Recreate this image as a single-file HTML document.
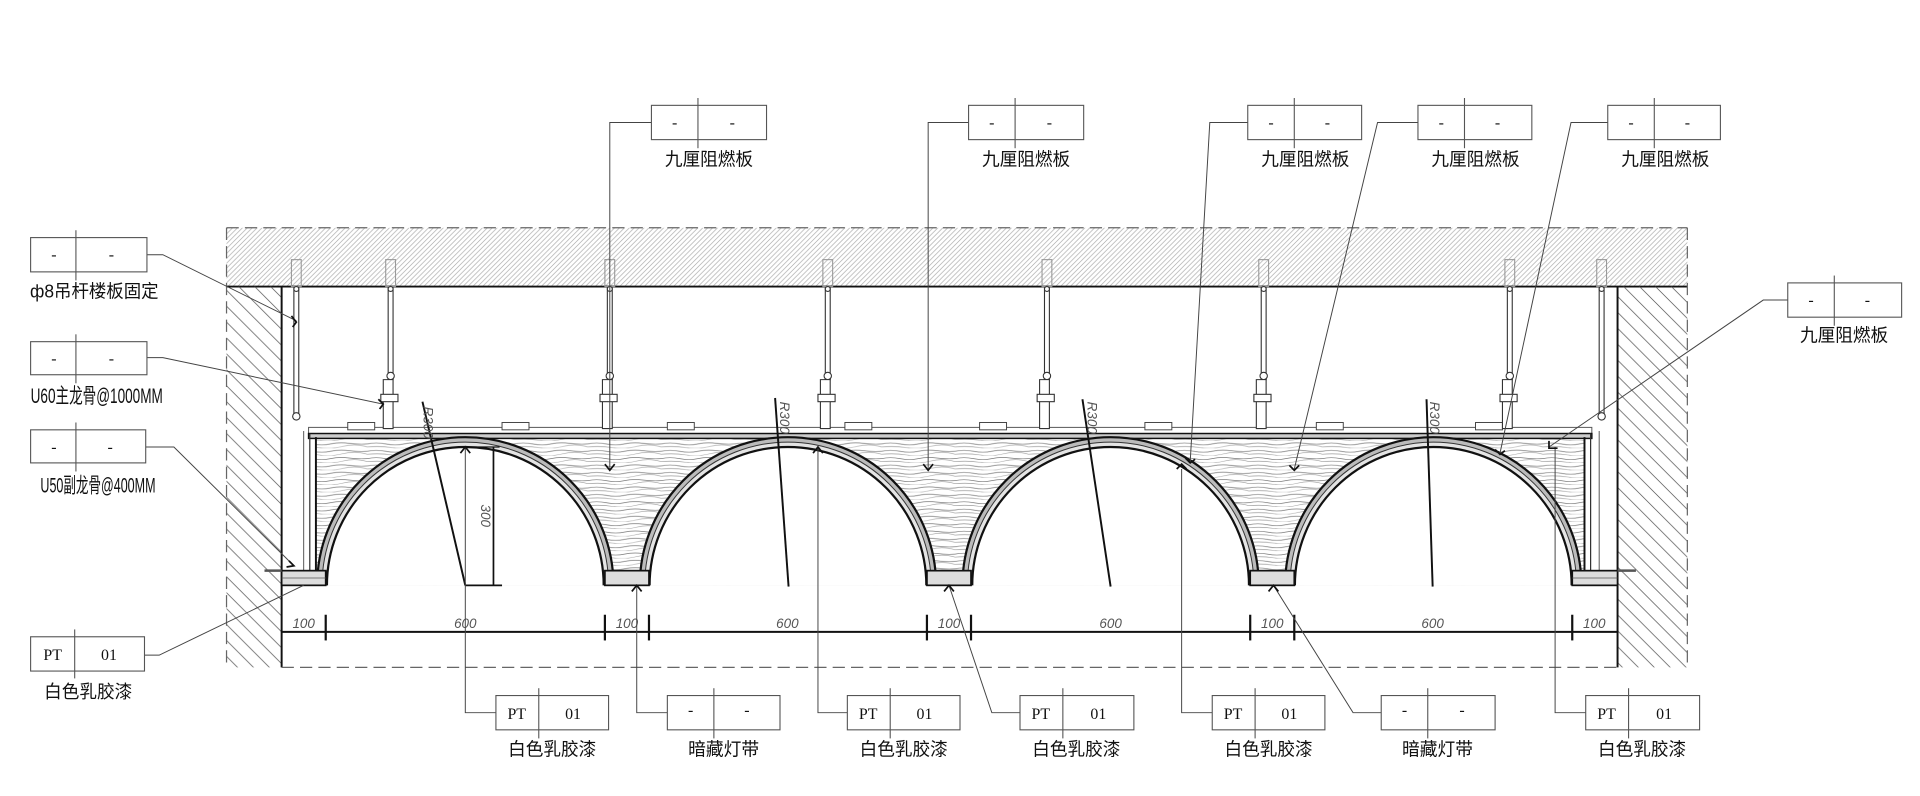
<!DOCTYPE html>
<html><head><meta charset="utf-8"><style>
html,body{margin:0;padding:0;background:#fff;}
svg{display:block;}
.lbl{font-family:"Liberation Sans","Noto Sans CJK SC",sans-serif;font-size:15px;fill:#111;}
.bx{font-family:"Liberation Serif","Noto Serif CJK SC",serif;font-size:13px;fill:#111;}
.dim{font-family:"Liberation Sans",sans-serif;font-size:11px;font-style:italic;fill:#555;}
</style></head><body>
<svg width="1920" height="796" viewBox="0 0 1568 650" xmlns="http://www.w3.org/2000/svg">
<defs>
<pattern id="slab" width="4" height="4" patternUnits="userSpaceOnUse">
<path d="M0 4 L4 0 M-1 1 L1 -1 M3 5 L5 3" stroke="#a8a8a8" stroke-width="0.55"/>
</pattern>
<pattern id="wall" width="13" height="13" patternUnits="userSpaceOnUse">
<path d="M0 0 L13 13 M-6.5 6.5 L6.5 19.5 M6.5 -6.5 L19.5 6.5" stroke="#555" stroke-width="0.6"/>
</pattern>
<pattern id="wood" width="60" height="6" patternUnits="userSpaceOnUse">
<path d="M0 2.5 Q7 1 15 2.5 T30 2.5 T45 2 T60 2.5" stroke="#777" stroke-width="0.55" fill="none"/>
<path d="M0 5 Q10 4 20 5.5 T40 4.5 T60 5" stroke="#999" stroke-width="0.5" fill="none"/>
</pattern>
<clipPath id="above"><rect x="0" y="0" width="1568" height="478"/></clipPath>
</defs>

<rect x="185" y="186" width="1193" height="48" fill="url(#slab)"/>
<line x1="185" y1="186" x2="1378" y2="186" stroke="#666" stroke-dasharray="10,5" stroke-width="1"/>
<line x1="185" y1="234" x2="1378" y2="234" stroke="#111" stroke-width="1.6"/>
<rect x="185" y="234" width="45" height="311" fill="url(#wall)"/>
<rect x="1321" y="234" width="57" height="311" fill="url(#wall)"/>
<line x1="185" y1="186" x2="185" y2="545" stroke="#666" stroke-dasharray="10,5"/>
<line x1="1378" y1="186" x2="1378" y2="545" stroke="#666" stroke-dasharray="10,5"/>
<line x1="230" y1="234" x2="230" y2="545" stroke="#111" stroke-width="1.6"/>
<line x1="1321" y1="234" x2="1321" y2="545" stroke="#111" stroke-width="1.6"/>
<line x1="230" y1="545" x2="1321" y2="545" stroke="#666" stroke-dasharray="10,5"/>

<rect x="258" y="357" width="1036" height="121" fill="url(#wood)"/>
<rect x="252" y="349" width="1048" height="5" fill="#fff" stroke="#555" stroke-width="0.8"/>
<rect x="252" y="354" width="1048" height="4" fill="#ccc" stroke="#111" stroke-width="1.2"/>
<line x1="258" y1="357" x2="258" y2="470" stroke="#111" stroke-width="1.6"/>
<line x1="253" y1="354" x2="253" y2="470" stroke="#333" stroke-width="1"/>
<line x1="1294" y1="357" x2="1294" y2="470" stroke="#111" stroke-width="1.6"/>
<line x1="1299" y1="354" x2="1299" y2="470" stroke="#333" stroke-width="1"/>
<line x1="248" y1="352" x2="248" y2="466" stroke="#555" stroke-width="0.8"/>
<line x1="1306" y1="352" x2="1306" y2="466" stroke="#555" stroke-width="0.8"/>
<g fill="#fff" stroke="#444" stroke-width="0.8">
<rect x="284" y="345" width="22" height="6"/><rect x="410" y="345" width="22" height="6"/>
<rect x="545" y="345" width="22" height="6"/><rect x="690" y="345" width="22" height="6"/>
<rect x="800" y="345" width="22" height="6"/><rect x="935" y="345" width="22" height="6"/>
<rect x="1075" y="345" width="22" height="6"/><rect x="1205" y="345" width="22" height="6"/>
</g>

<g clip-path="url(#above)">
<circle cx="380" cy="478" r="121" fill="#bbb" stroke="#111" stroke-width="1.8"/>
<circle cx="380" cy="478" r="117" fill="#e4e4e4" stroke="#333" stroke-width="0.8"/>
<circle cx="380" cy="478" r="113" fill="#fff" stroke="#111" stroke-width="1.8"/>
<circle cx="643.5" cy="478" r="121" fill="#bbb" stroke="#111" stroke-width="1.8"/>
<circle cx="643.5" cy="478" r="117" fill="#e4e4e4" stroke="#333" stroke-width="0.8"/>
<circle cx="643.5" cy="478" r="113" fill="#fff" stroke="#111" stroke-width="1.8"/>
<circle cx="907" cy="478" r="121" fill="#bbb" stroke="#111" stroke-width="1.8"/>
<circle cx="907" cy="478" r="117" fill="#e4e4e4" stroke="#333" stroke-width="0.8"/>
<circle cx="907" cy="478" r="113" fill="#fff" stroke="#111" stroke-width="1.8"/>
<circle cx="1170.5" cy="478" r="121" fill="#bbb" stroke="#111" stroke-width="1.8"/>
<circle cx="1170.5" cy="478" r="117" fill="#e4e4e4" stroke="#333" stroke-width="0.8"/>
<circle cx="1170.5" cy="478" r="113" fill="#fff" stroke="#111" stroke-width="1.8"/>
</g>
<g fill="#ddd" stroke="#111" stroke-width="1.4">
<rect x="230" y="466" width="36" height="12"/>
<rect x="494" y="466" width="36" height="12"/>
<rect x="757" y="466" width="36" height="12"/>
<rect x="1021" y="466" width="36" height="12"/>
<rect x="1284" y="466" width="37" height="12"/>
</g>
<line x1="230" y1="472" x2="266" y2="472" stroke="#555" stroke-width="0.7"/>
<line x1="1284" y1="472" x2="1321" y2="472" stroke="#555" stroke-width="0.7"/>
<line x1="216" y1="466" x2="230" y2="466" stroke="#555" stroke-width="2"/>
<line x1="1321" y1="466" x2="1336" y2="466" stroke="#555" stroke-width="2"/>

<g stroke="#333" stroke-width="0.9" fill="#fff">
<g><rect x="240" y="234" width="4" height="108"/><rect x="238" y="212" width="8" height="22" fill="none" stroke="#999"/><circle cx="242" cy="340" r="3"/><circle cx="242" cy="236" r="2"/></g>
<g><rect x="317" y="234" width="4" height="76"/><rect x="315" y="212" width="8" height="22" fill="none" stroke="#999"/><circle cx="319" cy="236" r="2"/><circle cx="319" cy="307" r="3"/><path d="M313 310 h8 v40 h-8 z"/><rect x="311" y="322" width="14" height="6"/></g>
<g><rect x="496" y="234" width="4" height="76"/><rect x="494" y="212" width="8" height="22" fill="none" stroke="#999"/><circle cx="498" cy="236" r="2"/><circle cx="498" cy="307" r="3"/><path d="M492 310 h8 v40 h-8 z"/><rect x="490" y="322" width="14" height="6"/></g>
<g><rect x="674" y="234" width="4" height="76"/><rect x="672" y="212" width="8" height="22" fill="none" stroke="#999"/><circle cx="676" cy="236" r="2"/><circle cx="676" cy="307" r="3"/><path d="M670 310 h8 v40 h-8 z"/><rect x="668" y="322" width="14" height="6"/></g>
<g><rect x="853" y="234" width="4" height="76"/><rect x="851" y="212" width="8" height="22" fill="none" stroke="#999"/><circle cx="855" cy="236" r="2"/><circle cx="855" cy="307" r="3"/><path d="M849 310 h8 v40 h-8 z"/><rect x="847" y="322" width="14" height="6"/></g>
<g><rect x="1030" y="234" width="4" height="76"/><rect x="1028" y="212" width="8" height="22" fill="none" stroke="#999"/><circle cx="1032" cy="236" r="2"/><circle cx="1032" cy="307" r="3"/><path d="M1026 310 h8 v40 h-8 z"/><rect x="1024" y="322" width="14" height="6"/></g>
<g><rect x="1231" y="234" width="4" height="76"/><rect x="1229" y="212" width="8" height="22" fill="none" stroke="#999"/><circle cx="1233" cy="236" r="2"/><circle cx="1233" cy="307" r="3"/><path d="M1227 310 h8 v40 h-8 z"/><rect x="1225" y="322" width="14" height="6"/></g>
<g><rect x="1306" y="234" width="4" height="108"/><rect x="1304" y="212" width="8" height="22" fill="none" stroke="#999"/><circle cx="1308" cy="340" r="3"/><circle cx="1308" cy="236" r="2"/></g>
</g>

<g stroke="#111" stroke-width="1.6">
<line x1="345" y1="328" x2="380" y2="478"/>
<line x1="633" y1="325" x2="644" y2="479"/>
<line x1="884" y1="326" x2="907" y2="479"/>
<line x1="1165" y1="326" x2="1170" y2="479"/>
</g>
<g class="dim" font-size="12">
<text transform="translate(346,332) rotate(90)">R300</text>
<text transform="translate(637,328) rotate(90)">R300</text>
<text transform="translate(888,328) rotate(90)">R300</text>
<text transform="translate(1168,328) rotate(90)">R300</text>
<text transform="translate(393,412) rotate(90)">300</text>
</g>
<line x1="403" y1="365" x2="403" y2="478" stroke="#111" stroke-width="1.4"/>
<line x1="380" y1="478" x2="410" y2="478" stroke="#111" stroke-width="1.4"/>
<line x1="380" y1="365" x2="408" y2="365" stroke="#111" stroke-width="1"/>

<line x1="230" y1="516" x2="1321" y2="516" stroke="#111" stroke-width="1.6"/>
<g stroke="#111" stroke-width="1.8">
<line x1="266" y1="502" x2="266" y2="523"/><line x1="494" y1="502" x2="494" y2="523"/>
<line x1="530" y1="502" x2="530" y2="523"/><line x1="757" y1="502" x2="757" y2="523"/>
<line x1="793" y1="502" x2="793" y2="523"/><line x1="1021" y1="502" x2="1021" y2="523"/>
<line x1="1057" y1="502" x2="1057" y2="523"/><line x1="1284" y1="502" x2="1284" y2="523"/>
</g>
<g class="dim" text-anchor="middle">
<text x="248" y="513">100</text><text x="380" y="513">600</text>
<text x="512" y="513">100</text><text x="643" y="513">600</text>
<text x="775" y="513">100</text><text x="907" y="513">600</text>
<text x="1039" y="513">100</text><text x="1170" y="513">600</text>
<text x="1302" y="513">100</text>
</g>

<g stroke="#444" stroke-width="0.8" fill="none">
<polyline points="532,100 498,100 498,383"/>
<polyline points="791,100 758,100 758,383"/>
<polyline points="1019,100 988,100 972,377"/>
<polyline points="1158,100 1125,100 1057,383"/>
<polyline points="1313,100 1283,100 1225,370"/>
<polyline points="1460,245 1440,245 1265,365"/>
<polyline points="120,208 133,208 242,262"/>
<polyline points="120,292 133,292 313,330"/>
<polyline points="119,365 142,365 240,462"/>
<polyline points="118,535 130,535 248,478"/>
<polyline points="405,582 380,582 380,366"/>
<polyline points="545,582 520,582 520,478"/>
<polyline points="692,582 668,582 668,366"/>
<polyline points="833,582 810,582 775,478"/>
<polyline points="990,582 965,582 965,383"/>
<polyline points="1128,582 1105,582 1040,478"/>
<polyline points="1295,582 1270,582 1270,365"/>
</g>
<g stroke="#111" stroke-width="1.4" fill="none">
<polyline points="494,379 498,384 502,379"/><polyline points="754,379 758,384 762,379"/>
<polyline points="968,374 972,378 976,375"/><polyline points="1053,380 1057,384 1061,380"/>
<polyline points="1221,367 1225,371 1229,368"/><polyline points="1265,360 1265,366 1272,366"/>
<polyline points="238,258 242,263 239,267"/><polyline points="309,326 313,330 310,334"/>
<polyline points="236,458 240,462 234,463"/>
<polyline points="376,370 380,365 384,370"/><polyline points="516,483 520,478 524,483"/>
<polyline points="664,370 668,365 672,370"/><polyline points="771,483 775,478 779,483"/>
<polyline points="961,383 965,379 969,383"/><polyline points="1036,483 1040,478 1044,483"/>
</g>

<g fill="#fff" stroke="#555" stroke-width="0.9">
<rect x="532" y="86" width="94" height="28"/><line x1="570" y1="80" x2="570" y2="121"/>
<rect x="791" y="86" width="94" height="28"/><line x1="829" y1="80" x2="829" y2="121"/>
<rect x="1019" y="86" width="93" height="28"/><line x1="1057" y1="80" x2="1057" y2="121"/>
<rect x="1158" y="86" width="93" height="28"/><line x1="1196" y1="80" x2="1196" y2="121"/>
<rect x="1313" y="86" width="92" height="28"/><line x1="1351" y1="80" x2="1351" y2="121"/>
<rect x="1460" y="231" width="93" height="28"/><line x1="1498" y1="225" x2="1498" y2="266"/>
<rect x="25" y="194" width="95" height="28"/><line x1="62" y1="188" x2="62" y2="229"/>
<rect x="25" y="279" width="95" height="27"/><line x1="62" y1="273" x2="62" y2="313"/>
<rect x="25" y="351" width="94" height="27"/><line x1="62" y1="345" x2="62" y2="385"/>
<rect x="25" y="520" width="93" height="28"/><line x1="61" y1="514" x2="61" y2="554"/>
<rect x="405" y="568" width="92" height="28"/><line x1="440" y1="562" x2="440" y2="603"/>
<rect x="545" y="568" width="92" height="28"/><line x1="583" y1="562" x2="583" y2="603"/>
<rect x="692" y="568" width="92" height="28"/><line x1="727" y1="562" x2="727" y2="603"/>
<rect x="833" y="568" width="93" height="28"/><line x1="868" y1="562" x2="868" y2="603"/>
<rect x="990" y="568" width="92" height="28"/><line x1="1025" y1="562" x2="1025" y2="603"/>
<rect x="1128" y="568" width="93" height="28"/><line x1="1166" y1="562" x2="1166" y2="603"/>
<rect x="1295" y="568" width="93" height="28"/><line x1="1330" y1="562" x2="1330" y2="603"/>
</g>
<g class="bx" text-anchor="middle">
<text x="551" y="104">-</text><text x="598" y="104">-</text>
<text x="810" y="104">-</text><text x="857" y="104">-</text>
<text x="1038" y="104">-</text><text x="1084" y="104">-</text>
<text x="1177" y="104">-</text><text x="1223" y="104">-</text>
<text x="1332" y="104">-</text><text x="1378" y="104">-</text>
<text x="1479" y="249">-</text><text x="1525" y="249">-</text>
<text x="44" y="212">-</text><text x="91" y="212">-</text>
<text x="44" y="297">-</text><text x="91" y="297">-</text>
<text x="44" y="369">-</text><text x="90" y="369">-</text>
<text x="43" y="539">PT</text><text x="89" y="539">01</text>
<text x="422" y="587">PT</text><text x="468" y="587">01</text>
<text x="564" y="584">-</text><text x="610" y="584">-</text>
<text x="709" y="587">PT</text><text x="755" y="587">01</text>
<text x="850" y="587">PT</text><text x="897" y="587">01</text>
<text x="1007" y="587">PT</text><text x="1053" y="587">01</text>
<text x="1147" y="584">-</text><text x="1194" y="584">-</text>
<text x="1312" y="587">PT</text><text x="1359" y="587">01</text>
</g>
<g class="lbl" text-anchor="middle">
<text x="579" y="135" textLength="72" lengthAdjust="spacingAndGlyphs">九厘阻燃板</text>
<text x="838" y="135" textLength="72" lengthAdjust="spacingAndGlyphs">九厘阻燃板</text>
<text x="1066" y="135" textLength="72" lengthAdjust="spacingAndGlyphs">九厘阻燃板</text>
<text x="1205" y="135" textLength="72" lengthAdjust="spacingAndGlyphs">九厘阻燃板</text>
<text x="1360" y="135" textLength="72" lengthAdjust="spacingAndGlyphs">九厘阻燃板</text>
<text x="1506" y="279" textLength="72" lengthAdjust="spacingAndGlyphs">九厘阻燃板</text>
<text x="77" y="243" textLength="105" lengthAdjust="spacingAndGlyphs">ф8吊杆楼板固定</text>
<text x="79" y="329" font-size="17" textLength="108" lengthAdjust="spacingAndGlyphs">U60主龙骨@1000MM</text>
<text x="80" y="402" font-size="17" textLength="94" lengthAdjust="spacingAndGlyphs">U50副龙骨@400MM</text>
<text x="72" y="570" textLength="72" lengthAdjust="spacingAndGlyphs">白色乳胶漆</text>
<text x="451" y="617" textLength="72" lengthAdjust="spacingAndGlyphs">白色乳胶漆</text>
<text x="591" y="617" textLength="58" lengthAdjust="spacingAndGlyphs">暗藏灯带</text>
<text x="738" y="617" textLength="72" lengthAdjust="spacingAndGlyphs">白色乳胶漆</text>
<text x="879" y="617" textLength="72" lengthAdjust="spacingAndGlyphs">白色乳胶漆</text>
<text x="1036" y="617" textLength="72" lengthAdjust="spacingAndGlyphs">白色乳胶漆</text>
<text x="1174" y="617" textLength="58" lengthAdjust="spacingAndGlyphs">暗藏灯带</text>
<text x="1341" y="617" textLength="72" lengthAdjust="spacingAndGlyphs">白色乳胶漆</text>
</g>
</svg>
</body></html>
